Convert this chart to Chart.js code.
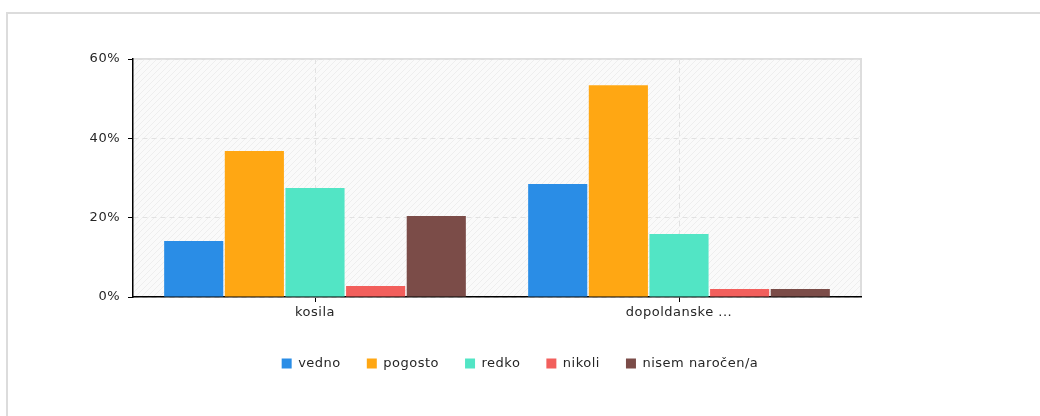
<!DOCTYPE html>
<html>
<head>
<meta charset="utf-8">
<script src="https://cdn.jsdelivr.net/npm/chart.js@4"></script>
<style>
  html, body { margin:0; padding:0; width:1040px; height:416px; overflow:hidden; background:#fff; }
  #frame { position:absolute; left:6px; top:12px; width:1200px; height:600px; border-left:2px solid #dcdcdc; border-top:2px solid #dcdcdc; }
  #wrap { position:absolute; left:0; top:0; width:1040px; height:416px; }
</style>
</head>
<body>
<div id="frame"></div>
<div id="wrap"><canvas id="c" width="1040" height="416"></canvas></div>
<script>
const categories = ["kosila", "dopoldanske ..."];
const seriesNames = ["vedno", "pogosto", "redko", "nikoli", "nisem naročen/a"];
const vedno   = [14.1, 28.5];
const pogosto = [36.8, 53.4];
const redko   = [27.5, 15.9];
const nikoli  = [2.8, 2.0];
const nisem   = [20.4, 2.0];
const yTicks  = [0, 20, 40, 60];
const colors  = ["#2a8de6", "#ffa713", "#52e5c5", "#f25f5c", "#7b4c48"];

const seriesValues = [vedno, pogosto, redko, nikoli, nisem];

function makePattern(ctx) {
  const pc = document.createElement('canvas');
  pc.width = 6; pc.height = 6;
  const p = pc.getContext('2d');
  p.fillStyle = '#fafafa';
  p.fillRect(0,0,6,6);
  p.strokeStyle = '#eeeeee';
  p.lineWidth = 1;
  p.beginPath();
  p.moveTo(0,6); p.lineTo(6,0);
  p.moveTo(-3,3); p.lineTo(3,-3);
  p.moveTo(3,9); p.lineTo(9,3);
  p.stroke();
  return ctx.createPattern(pc, 'repeat');
}

const spacingPlugin = {
  id: 'spacing',
  beforeUpdate(chart) { chart.ctx.letterSpacing = '0.5px'; },
  beforeLayout(chart) { chart.ctx.letterSpacing = '0.5px'; },
  beforeDraw(chart) { chart.ctx.letterSpacing = '0.5px'; }
};

const bgPlugin = {
  id: 'bgPlugin',
  beforeDraw(chart) {
    const {ctx, chartArea:a} = chart;
    ctx.save();
    ctx.fillStyle = makePattern(ctx);
    ctx.fillRect(a.left, a.top, a.right - a.left, a.bottom - a.top);
    ctx.strokeStyle = '#dddddd';
    ctx.lineWidth = 2;
    ctx.beginPath();
    ctx.moveTo(a.left, a.top);
    ctx.lineTo(a.right, a.top);
    ctx.lineTo(a.right, a.bottom);
    ctx.stroke();
    ctx.restore();
  }
};

new Chart(document.getElementById('c'), {
  type: 'bar',
  data: {
    labels: categories,
    datasets: seriesNames.map((n, i) => ({
      label: n,
      data: seriesValues[i],
      backgroundColor: colors[i],
      borderWidth: 0,
      barPercentage: 0.975,
      categoryPercentage: 0.833
    }))
  },
  options: {
    responsive: false,
    animation: false,
    devicePixelRatio: 1,
    layout: { padding: { left: 0, right: 0, top: 59, bottom: 36 } },
    plugins: {
      tooltip: { enabled: false },
      legend: {
        position: 'bottom',
        labels: {
          boxWidth: 10, boxHeight: 10, padding: 26,
          color: '#262626', font: { family: 'DejaVu Sans', size: 13 }
        }
      }
    },
    scales: {
      x: {
        afterFit(s) { s.height = 34; },
        grid: { offset: false, color: '#e2e2e2', tickColor: '#000', tickBorderDash: [], tickLength: 5 },
        border: { display: true, color: '#000', width: 1.5, dash: [5,4] },
        ticks: { color: '#262626', font: { family: 'DejaVu Sans', size: 13 }, padding: 3 }
      },
      y: {
        min: 0, max: 60,
        afterFit(s) { s.width = 133; },
        afterBuildTicks(s) { s.ticks = yTicks.map(v => ({ value: v })); },
        grid: { color: '#e2e2e2', tickColor: '#000', tickBorderDash: [], tickLength: 5 },
        border: { display: true, color: '#000', width: 1.5, dash: [5,4] },
        ticks: { color: '#262626', font: { family: 'DejaVu Sans', size: 13 }, padding: 8, callback: v => v + '%' }
      },
      pad: {
        position: 'right',
        display: true,
        min: 0, max: 1,
        afterFit(s) { s.width = 179; },
        grid: { display: false, drawTicks: false },
        border: { display: false },
        ticks: { display: false }
      }
    }
  },
  plugins: [spacingPlugin, bgPlugin]
});
</script>
</body>
</html>
